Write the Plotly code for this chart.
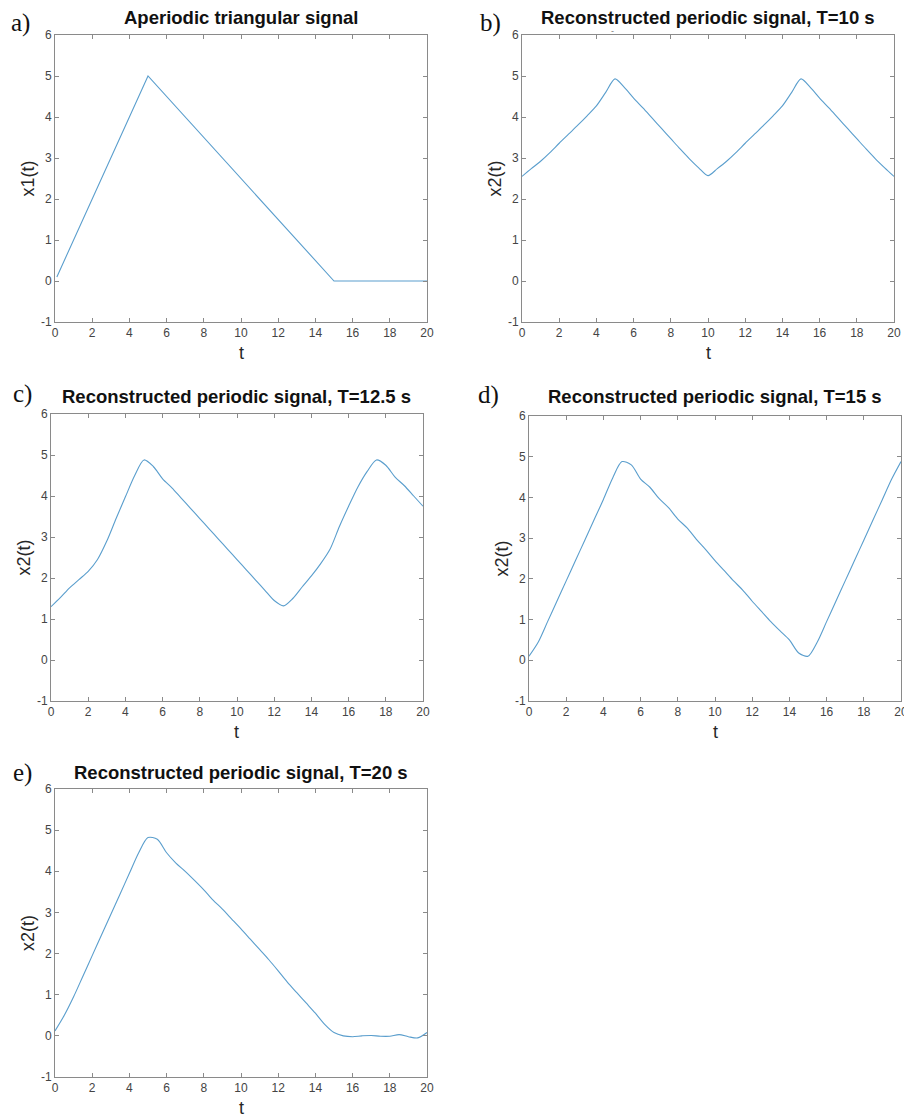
import plotly.graph_objects as go

# ---------------- data ----------------
t_a = [0.1, 5, 15, 20]
x_a = [0.1, 5.0, 0.0, 0.0]

t_half = [0, 0.5, 1, 1.5, 2, 2.5, 3, 3.5, 4, 4.5, 5, 5.5, 6, 6.5, 7, 7.5, 8, 8.5, 9, 9.5, 10,
          10.5, 11, 11.5, 12, 12.5, 13, 13.5, 14, 14.5, 15, 15.5, 16, 16.5, 17, 17.5, 18, 18.5, 19, 19.5, 20]

x_b = [2.55, 2.74, 2.92, 3.13, 3.36, 3.58, 3.80, 4.03, 4.27, 4.60, 4.93, 4.72, 4.46, 4.22, 3.97, 3.72, 3.47, 3.22, 2.98, 2.76, 2.57,
       2.74, 2.92, 3.13, 3.36, 3.58, 3.80, 4.03, 4.27, 4.60, 4.93, 4.72, 4.46, 4.22, 3.97, 3.72, 3.47, 3.22, 2.98, 2.76, 2.55]

x_c = [1.30, 1.52, 1.76, 1.96, 2.16, 2.45, 2.90, 3.45, 3.98, 4.50, 4.88, 4.72, 4.42, 4.20, 3.95, 3.70, 3.45, 3.20, 2.95, 2.70, 2.45,
       2.20, 1.95, 1.70, 1.45, 1.32, 1.50, 1.78, 2.05, 2.35, 2.70, 3.25, 3.75, 4.22, 4.60, 4.88, 4.75, 4.46, 4.25, 4.00, 3.75]

x_d = [0.10, 0.45, 0.95, 1.45, 1.95, 2.45, 2.95, 3.45, 3.95, 4.48, 4.88, 4.80, 4.45, 4.25, 3.97, 3.75, 3.47, 3.25, 2.97, 2.72, 2.45,
       2.20, 1.95, 1.72, 1.45, 1.20, 0.95, 0.72, 0.50, 0.18, 0.10, 0.45, 0.95, 1.45, 1.95, 2.45, 2.95, 3.45, 3.95, 4.45, 4.88]

x_e = [0.12, 0.50, 0.95, 1.45, 1.95, 2.45, 2.95, 3.45, 3.95, 4.45, 4.82, 4.78, 4.45, 4.20, 4.00, 3.78, 3.55, 3.30, 3.08, 2.84, 2.60,
       2.35, 2.10, 1.85, 1.58, 1.30, 1.05, 0.80, 0.55, 0.28, 0.08, 0.00, -0.02, 0.00, 0.01, -0.01, -0.01, 0.03, -0.02, -0.05, 0.08]

x_tick_vals = [0, 2, 4, 6, 8, 10, 12, 14, 16, 18, 20]
x_tick_text = ["0", "2", "4", "6", "8", "10", "12", "14", "16", "18", "20"]
y_tick_vals = [-1, 0, 1, 2, 3, 4, 5, 6]
y_tick_text = ["-1", "0", "1", "2", "3", "4", "5", "6"]

titles = ["Aperiodic triangular signal",
          "Reconstructed periodic signal, T=10 s",
          "Reconstructed periodic signal, T=12.5 s",
          "Reconstructed periodic signal, T=15 s",
          "Reconstructed periodic signal, T=20 s"]
ylabels = ["x1(t)", "x2(t)", "x2(t)", "x2(t)", "x2(t)"]
letters = ["a)", "b)", "c)", "d)", "e)"]

series = [(t_a, x_a), (t_half, x_b), (t_half, x_c), (t_half, x_d), (t_half, x_e)]

# ---------------- layout (pixel boxes in page coordinates) ----------------
PAGE_W, PAGE_H = 912, 1118
OFF = 8  # default page body margin
W, H = PAGE_W - OFF, PAGE_H - OFF


def px(x):
    return (x - OFF) / W


def py(y):
    return 1 - (y - OFF) / H


# (left, right, top, bottom) in page pixels
boxes = [(55, 427, 35, 322),
         (522, 894, 35, 322),
         (51, 423, 414, 701),
         (529, 901, 416, 701),
         (55, 427, 789, 1077)]
title_y = [17, 17, 397, 397, 772]
# letter label: (center x, top y) in page pixels
letter_pos = [(20, 8), (490, 8), (22, 379), (488, 380), (22, 758)]

LINE = "#5a9ecd"
AX = "#8a8a8a"
TXT = "#444444"

fig = go.Figure()
for i, ((tt, xx), (l, r, tp, bt)) in enumerate(zip(series, boxes)):
    n = "" if i == 0 else str(i + 1)
    fig.add_trace(go.Scatter(x=tt, y=xx, mode="lines",
                             line=dict(color=LINE, width=1.1, shape="linear" if i == 0 else "spline", smoothing=0.8),
                             xaxis="x" + n, yaxis="y" + n, showlegend=False, hoverinfo="skip"))
    common = dict(showgrid=False, zeroline=False, showline=True, linecolor=AX, linewidth=1,
                  mirror="ticks", ticks="inside", ticklen=4, tickcolor=AX, tickwidth=1, automargin=False,
                  tickfont=dict(family="Arial, Liberation Sans", size=12, color=TXT))
    fig.layout["xaxis" + n] = dict(common, domain=[px(l), px(r)], range=[0, 20], anchor="y" + n,
                                   tickmode="array", tickvals=x_tick_vals, ticktext=x_tick_text)
    fig.layout["yaxis" + n] = dict(common, domain=[py(bt), py(tp)], range=[-1, 6], anchor="x" + n,
                                   tickmode="array", tickvals=y_tick_vals, ticktext=y_tick_text)
    cx = (l + r) / 2
    cy = (tp + bt) / 2
    fig.add_annotation(x=px(cx), y=py(title_y[i]), xref="paper", yref="paper", text="<b>" + titles[i] + "</b>",
                       showarrow=False, xanchor="center", yanchor="middle",
                       font=dict(family="Arial, Liberation Sans", size=18.5, color="#111111"))
    fig.add_annotation(x=px(cx), y=py(bt + 31), xref="paper", yref="paper", text="t",
                       showarrow=False, xanchor="center", yanchor="middle",
                       font=dict(family="Arial, Liberation Sans", size=18, color="#262626"))
    fig.add_annotation(x=px(l - 27), y=py(cy), xref="paper", yref="paper", text=ylabels[i],
                       showarrow=False, xanchor="center", yanchor="middle", textangle=-90,
                       font=dict(family="Arial, Liberation Sans", size=18, color="#262626"))
    lx, ly = letter_pos[i]
    fig.add_annotation(x=px(lx), y=py(ly), xref="paper", yref="paper", text=letters[i],
                       showarrow=False, xanchor="center", yanchor="top", borderpad=0,
                       font=dict(family="Liberation Serif, Times New Roman", size=25, color="#111111"))

# small stray dash above panel b seen in the reference
fig.add_annotation(x=px(612), y=py(31), xref="paper", yref="paper", text="-",
                   showarrow=False, xanchor="center", yanchor="middle",
                   font=dict(family="Arial, Liberation Sans", size=9, color="#777777"))

fig.update_layout(width=W, height=H, margin=dict(l=0, r=0, t=0, b=0, autoexpand=False),
                  paper_bgcolor="white", plot_bgcolor="white")
fig.write_html("out.html")
